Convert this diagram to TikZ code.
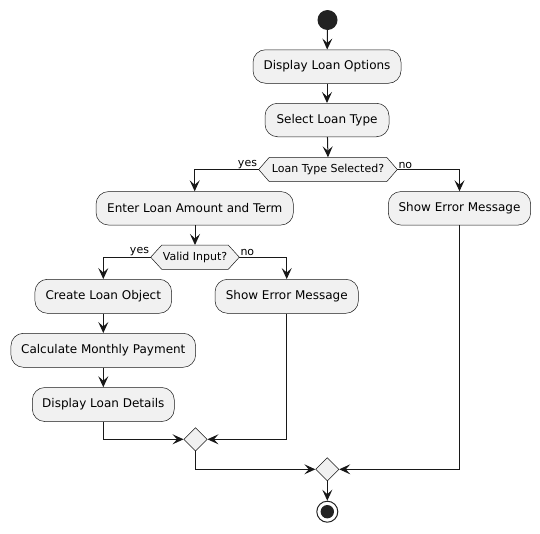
\documentclass[tikz,border=0pt]{standalone}
\usepackage{fontspec}
\setmainfont{DejaVu Sans}
\usetikzlibrary{arrows.meta,shapes.geometric,calc}
\definecolor{ln}{HTML}{181818}
\definecolor{bg}{HTML}{F1F1F1}
\definecolor{dot}{HTML}{222222}
\tikzset{
  act/.style={draw=ln, line width=0.5pt, fill=bg, rounded corners=12.5pt, minimum height=33.5pt, inner sep=0pt, font=\fontsize{12pt}{14pt}\selectfont, text=black},
  hexbox/.style={draw=ln, line width=0.5pt, fill=bg},
  dectext/.style={inner sep=0pt, font=\fontsize{11pt}{13pt}\selectfont, text=black},
  merge/.style={draw=ln, line width=0.5pt, fill=bg, diamond, minimum width=23.4pt, minimum height=23.4pt, inner sep=0pt},
  flow/.style={draw=ln, line width=1pt, -{Stealth[length=11pt, width=10pt, inset=4.5pt]}},
  plain/.style={draw=ln, line width=1pt},
  lbl/.style={inner sep=0pt, font=\fontsize{11pt}{13pt}\selectfont, text=black}
}
\begin{document}
\begin{tikzpicture}[x=1pt,y=-1pt]
\useasboundingbox (0,0) rectangle (540,533);
% start
\node[circle, fill=dot, minimum size=20pt, inner sep=0pt] (start) at (327.5,20) {};
% actions
\node[act, minimum width=148pt] (opts) at (327,66.5) {Display Loan Options};
\node[act, minimum width=124pt] (sel) at (327,120) {Select Loan Type};
% decision 1
\coordinate (d1c) at (328,169.5);
\coordinate (d1l) at (258.7,169.5);
\coordinate (d1r) at (397.3,169.5);
\coordinate (d1t) at (328,157.3);
\draw[hexbox] (d1l) -- (269.3,157.3) -- (386.7,157.3) -- (d1r) -- (386.7,181.7) -- (269.3,181.7) -- cycle;
\node[dectext] (d1) at (d1c) {Loan Type Selected?};
\node[act, minimum width=197.3pt] (ent) at (194.7,208.3) {Enter Loan Amount and Term};
\node[act, minimum width=142.4pt] (err1) at (459.5,208.3) {Show Error Message};
% decision 2
\coordinate (d2c) at (195,257.2);
\coordinate (d2l) at (150.7,257.2);
\coordinate (d2r) at (239.3,257.2);
\coordinate (d2t) at (195,245);
\draw[hexbox] (d2l) -- (161.8,245) -- (228.2,245) -- (d2r) -- (228.2,269.4) -- (161.8,269.4) -- cycle;
\node[dectext] (d2) at (d2c) {Valid Input?};
\node[act, minimum width=136.7pt, minimum height=34pt] (create) at (103.3,296.3) {Create Loan Object};
\node[act, minimum width=143.3pt, minimum height=34pt] (err2) at (286.7,296.3) {Show Error Message};
\node[act, minimum width=184.7pt, minimum height=34pt] (calc) at (103.3,350.3) {Calculate Monthly Payment};
\node[act, minimum width=142pt, minimum height=34pt] (det) at (103.3,404.5) {Display Loan Details};
% merges
\node[merge] (m1) at (195.5,439.3) {};
\node[merge] (m2) at (327.3,469.3) {};
% end
\node[circle, draw=dot, line width=1pt, fill=white, minimum size=21pt, inner sep=0pt] (stop) at (327.3,511.7) {};
\node[circle, fill=dot, minimum size=13.4pt, inner sep=0pt] (stopdot) at (stop) {};
% connectors
\draw[flow] (start) -- (opts);
\draw[flow] (opts) -- (sel);
\draw[flow] (sel) -- (d1t);
\draw[flow] (d1l) -| (ent.north);
\draw[flow] (d1r) -| (err1.north);
\node[lbl, anchor=south east] (yes1) at ($(d1l)+(-1.5,-1)$) {yes};
\node[lbl, anchor=south west] (no1) at ($(d1r)+(1,-1)$) {no};
\draw[flow] (ent.south -| d2t) -- (d2t);
\draw[flow] (d2l) -| (create.north);
\draw[flow] (d2r) -| (err2.north);
\node[lbl, anchor=south east] (yes2) at ($(d2l)+(-1.5,-1)$) {yes};
\node[lbl, anchor=south west] (no2) at ($(d2r)+(1,-1)$) {no};
\draw[flow] (create) -- (calc);
\draw[flow] (calc) -- (det);
\draw[flow] (det.south) |- (m1.west);
\draw[flow] (err2.south) |- (m1.east);
\draw[flow] (m1.south) |- (m2.west);
\draw[flow] (err1.south) |- (m2.east);
\draw[flow] (m2.south) -- (stop.north);
\end{tikzpicture}
\end{document}
